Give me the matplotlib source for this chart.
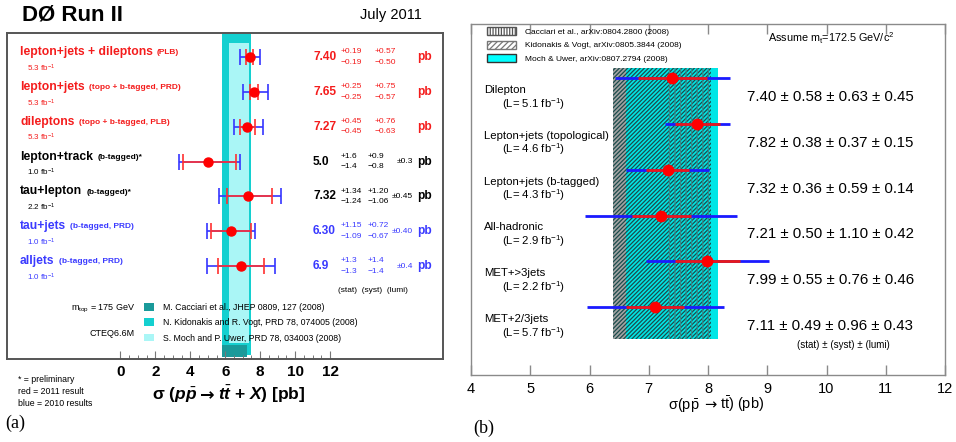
import matplotlib
matplotlib.use('Agg')
import matplotlib.pyplot as plt
import matplotlib.transforms as mtransforms
from matplotlib.patches import Patch
import numpy as np

plt.rcParams['font.family'] = ['Liberation Sans', 'DejaVu Sans']
plt.rcParams['mathtext.fontset'] = 'custom'
plt.rcParams['mathtext.rm'] = 'Liberation Sans'
plt.rcParams['mathtext.bf'] = 'Liberation Sans:bold'
plt.rcParams['mathtext.it'] = 'Liberation Sans:italic:bold'
plt.rcParams['mathtext.sf'] = 'Liberation Sans'
plt.rcParams['hatch.linewidth'] = 0.9

# ---------------- data: panel (a) ----------------
d0_names = ["lepton+jets + dileptons", "lepton+jets", "dileptons", "lepton+track",
            "tau+lepton", "tau+jets", "alljets"]
d0_notes = ["(PLB)", "(topo + b-tagged, PRD)", "(topo + b-tagged, PLB)", "(b-tagged)*",
            "(b-tagged)*", "(b-tagged, PRD)", "(b-tagged, PRD)"]
d0_intlumi = [5.3, 5.3, 5.3, 1.0, 2.2, 1.0, 1.0]
d0_xsec = [7.40, 7.65, 7.27, 5.0, 7.32, 6.30, 6.9]
d0_stat_up = [0.19, 0.25, 0.45, 1.6, 1.34, 1.15, 1.3]
d0_stat_dn = [0.19, 0.25, 0.45, 1.4, 1.24, 1.09, 1.3]
d0_syst_up = [0.57, 0.75, 0.76, 0.9, 1.20, 0.72, 1.4]
d0_syst_dn = [0.50, 0.57, 0.63, 0.8, 1.06, 0.67, 1.4]
d0_lumi_err = [None, None, None, 0.3, 0.45, 0.40, 0.4]
d0_decimals = [2, 2, 2, 1, 2, 2, 1]
d0_group = ["2011", "2011", "2011", "prelim", "prelim", "2010", "2010"]
d0_xticks = [0, 2, 4, 6, 8, 10, 12]

a_theory_names = ["M. Cacciari et al., JHEP 0809, 127 (2008)",
                  "N. Kidonakis and R. Vogt, PRD 78, 074005 (2008)",
                  "S. Moch and P. Uwer, PRD 78, 034003 (2008)"]
a_theory_lo = [5.8, 5.8, 6.2]
a_theory_hi = [7.25, 7.45, 7.35]

# ---------------- data: panel (b) ----------------
b_names = ["Dilepton", "Lepton+jets (topological)", "Lepton+jets (b-tagged)",
           "All-hadronic", "MET+>3jets", "MET+2/3jets"]
b_intlumi = [5.1, 4.6, 4.3, 2.9, 2.2, 5.7]
b_xsec = [7.40, 7.82, 7.32, 7.21, 7.99, 7.11]
b_stat = [0.58, 0.38, 0.36, 0.50, 0.55, 0.49]
b_syst = [0.63, 0.37, 0.59, 1.10, 0.76, 0.96]
b_lumi = [0.45, 0.15, 0.14, 0.42, 0.46, 0.43]

b_theory_names = ["Cacciari et al., arXiv:0804.2800 (2008)",
                  "Kidonakis & Vogt, arXiv:0805.3844 (2008)",
                  "Moch & Uwer, arXiv:0807.2794 (2008)"]
b_theory_lo = [7.30, 6.40, 6.62]
b_theory_hi = [8.05, 8.05, 8.17]

# ---------------- figure ----------------
W, H = 956, 442
fig = plt.figure(figsize=(W / 100, H / 100), dpi=100)


def fx(px):
    return px / W


def fy(py):
    return 1 - py / H


RED = '#f41c1c'
BLUE = '#3a3aff'
group_color = {"2011": RED, "prelim": 'black', "2010": BLUE}

# ================= panel (a) =================
axa = fig.add_axes([fx(7), fy(359), (443 - 7) / W, (359 - 33) / H])
axa.set_xlim(-6.50, 18.47)
axa.set_ylim(8.67, -0.69)
for s in axa.spines.values():
    s.set_color('#555555')
    s.set_linewidth(1.4)
axa.set_yticks([])
axa.set_xticks(d0_xticks)
axa.set_xticks(np.arange(d0_xticks[0], d0_xticks[-1] + 0.01, 0.5), minor=True)
axa.tick_params(axis='x', which='major', direction='in', length=6, width=0.8,
                color='#777777', labelsize=11, pad=4)
axa.tick_params(axis='x', which='minor', direction='in', length=3, width=0.7,
                color='#777777')
for lab in axa.get_xticklabels():
    lab.set_fontweight('bold')

a_colors = ['#1a9a9a', '#14d0d0', '#aaf6f6']
axa.axvspan(a_theory_lo[1], a_theory_hi[1], ymin=0.012, ymax=1.0,
            color=a_colors[1], lw=0, zorder=1)
axa.axvspan(a_theory_lo[2], a_theory_hi[2], ymin=0.049, ymax=0.969,
            color=a_colors[2], lw=0, zorder=1.1)
axa.axvspan(a_theory_lo[0], a_theory_hi[0], ymin=0.006, ymax=0.043,
            color=a_colors[0], lw=0, zorder=1.2)

rows_a = np.arange(len(d0_names))
x = np.array(d0_xsec)
su, sd = np.array(d0_stat_up), np.array(d0_stat_dn)
yu, yd = np.array(d0_syst_up), np.array(d0_syst_dn)
lu = np.array([0 if v is None else v for v in d0_lumi_err])
tot_up = np.sqrt(su ** 2 + yu ** 2 + lu ** 2)
tot_dn = np.sqrt(sd ** 2 + yd ** 2 + lu ** 2)
axa.errorbar(x, rows_a, xerr=[tot_dn, tot_up], fmt='none', ecolor='#3535ff',
             elinewidth=1.2, capsize=6, capthick=1.2, zorder=3)
axa.errorbar(x, rows_a, xerr=[sd, su], fmt='none', ecolor='#ff3030',
             elinewidth=1.2, capsize=6, capthick=1.2, zorder=4)
axa.plot(x, rows_a, 'o', color='#ff0000', ms=6.5, zorder=5)

trA = mtransforms.blended_transform_factory(axa.transAxes, axa.transData)
for i in range(len(d0_names)):
    c = group_color[d0_group[i]]
    d = d0_decimals[i]
    t = axa.text(0.030, i - 0.14, d0_names[i], transform=trA, color=c,
                 fontsize=8.7, fontweight='bold', va='center', zorder=6)
    axa.annotate(d0_notes[i], xy=(1, 0.5), xycoords=t, xytext=(3, -0.5),
                 textcoords='offset points', fontsize=6, fontweight='bold',
                 color=c, va='center', zorder=6)
    axa.text(0.046, i + 0.32, f"{d0_intlumi[i]:.1f} fb$^{{-1}}$", transform=trA,
             color=c, fontsize=5.8, va='center', zorder=6)
    axa.text(0.702, i, f"{d0_xsec[i]:.{d}f}", transform=trA, color=c,
             fontsize=8.6, fontweight='bold', va='center', zorder=6)
    x2 = 0.844 if d0_lumi_err[i] is None else 0.826
    axa.text(0.766, i - 0.15, f"+{d0_stat_up[i]:.{d}f}", transform=trA, color=c,
             fontsize=6.0, va='center', zorder=6)
    axa.text(0.766, i + 0.15, f"\u2212{d0_stat_dn[i]:.{d}f}", transform=trA, color=c,
             fontsize=6.0, va='center', zorder=6)
    axa.text(x2, i - 0.15, f"+{d0_syst_up[i]:.{d}f}", transform=trA, color=c,
             fontsize=6.0, va='center', zorder=6)
    axa.text(x2, i + 0.15, f"\u2212{d0_syst_dn[i]:.{d}f}", transform=trA, color=c,
             fontsize=6.0, va='center', zorder=6)
    if d0_lumi_err[i] is not None:
        axa.text(0.931, i, f"\u00b1{d0_lumi_err[i]:.{d}f}", transform=trA, color=c,
                 fontsize=6.0, va='center', ha='right', zorder=6)
    axa.text(0.940, i, "pb", transform=trA, color=c, fontsize=8.6,
             fontweight='bold', va='center', zorder=6)

axa.text((338 - 7) / 436, (359 - 290) / 326, "(stat)  (syst)  (lumi)",
         transform=axa.transAxes, fontsize=6, va='center', zorder=6)
axa.text((135 - 7) / 436, (359 - 309) / 326, "m$_{\\rm top}$ = 175 GeV",
         transform=axa.transAxes, fontsize=6.5, va='center', ha='right', zorder=6)
axa.text((135 - 7) / 436, (359 - 333) / 326, "CTEQ6.6M",
         transform=axa.transAxes, fontsize=6.5, va='center', ha='right', zorder=6)
hA = [Patch(facecolor=c, edgecolor='none') for c in a_colors]
legA = axa.legend(hA, a_theory_names, loc='upper left', bbox_to_anchor=(0.314, 0.172),
                  frameon=False, fontsize=6.3, handlelength=1.1, handleheight=1.0,
                  handletextpad=1.1, labelspacing=0.72, borderaxespad=0, borderpad=0)
legA.set_zorder(6)

fig.text(fx(22), fy(15), "D\u00d8 Run II", fontsize=16, fontweight='bold', va='center')
fig.text(fx(360), fy(15), "July 2011", fontsize=10.5, va='center')

# x label (a): three pieces around a centred arrow
ya_base = fy(400)
fig.text(fx(197), ya_base, '$\\mathbf{\\sigma}$ ($p\\bar{p}$', fontsize=12.5,
         fontweight='bold', ha='right', va='baseline')
fig.text(fx(207), ya_base, '\u2192', fontsize=12.5, fontweight='bold',
         family='DejaVu Sans', ha='center', va='baseline')
fig.text(fx(218), ya_base, '$t\\bar{t}$ + $X$) [pb]', fontsize=12.5,
         fontweight='bold', ha='left', va='baseline')

for k, s in enumerate(["* = preliminary", "red = 2011 result", "blue = 2010 results"]):
    fig.text(fx(18), fy(380 + 12 * k), s, fontsize=6.3, va='center')
fig.text(fx(5), fy(423), "(a)", fontsize=13, family=['Liberation Serif', 'DejaVu Serif'],
         va='center')

# ================= panel (b) =================
axb = fig.add_axes([fx(471), fy(375), (945 - 471) / W, (375 - 24) / H])
axb.set_xlim(4, 12)
axb.set_ylim(6.48, -1.18)
for s in axb.spines.values():
    s.set_color('#8a8a8a')
    s.set_linewidth(1.0)
axb.set_yticks([])
axb.set_xticks(np.arange(4, 13, 1))
axb.tick_params(axis='x', direction='in', length=7, width=1.0, color='#8a8a8a',
                top=True, labelsize=10.5, pad=5)

bymin, bymax = 0.1026, 0.875
axb.axvspan(b_theory_lo[1], b_theory_hi[1], ymin=bymin, ymax=bymax,
            facecolor='#a4a4a4', edgecolor='none', lw=0, zorder=1)
axb.axvspan(b_theory_lo[2], b_theory_hi[2], ymin=bymin, ymax=bymax,
            facecolor='#00e6e6', edgecolor='none', lw=0, zorder=1.1)
axb.axvspan(b_theory_lo[1], b_theory_hi[1], ymin=bymin, ymax=bymax,
            facecolor='none', edgecolor='#1c4c4c', hatch='////////', lw=0, zorder=1.2)
axb.axvspan(b_theory_lo[0], b_theory_hi[0], ymin=bymin, ymax=bymax,
            facecolor='none', edgecolor='#3a8888', hatch='|||', lw=0, zorder=1.3)

rows_b = np.arange(len(b_names))
xb = np.array(b_xsec)
stb = np.array(b_stat)
totb = np.sqrt(stb ** 2 + np.array(b_syst) ** 2 + np.array(b_lumi) ** 2)
axb.errorbar(xb, rows_b, xerr=totb, fmt='none', ecolor='#1a1aff', elinewidth=2.0,
             capsize=0, zorder=3)
axb.errorbar(xb, rows_b, xerr=stb, fmt='none', ecolor='#e81a1a', elinewidth=2.0,
             capsize=0, zorder=4)
axb.plot(xb, rows_b, 'o', color='#ff0000', ms=7.5, zorder=5)

for i in range(len(b_names)):
    axb.text(4.22, i + 0.26, b_names[i], fontsize=8.2, va='center')
    axb.text(4.52, i + 0.56, f"(L= {b_intlumi[i]:.1f} fb$^{{-1}}$)", fontsize=8.2,
             va='center')
    axb.text(8.66, i + 0.41,
             f"{b_xsec[i]:.2f} \u00b1 {b_stat[i]:.2f} \u00b1 {b_syst[i]:.2f} \u00b1 {b_lumi[i]:.2f}",
             fontsize=10.8, va='center')

axb.text(0.627, 0.96, "Assume m$_{\\mathrm{t}}$=172.5 GeV/c$^{2}$", transform=axb.transAxes,
         fontsize=7.8, va='center')
axb.text(0.688, 0.085, "(stat) \u00b1 (syst) \u00b1 (lumi)", transform=axb.transAxes,
         fontsize=7, va='center')

hB = [Patch(facecolor='white', edgecolor='#555555', hatch='||||||'),
      Patch(facecolor='white', edgecolor='#777777', hatch='//////'),
      Patch(facecolor='#00ffff', edgecolor='#333333')]
axb.legend(hB, b_theory_names, loc='upper left', bbox_to_anchor=(0.034, 0.991),
           frameon=False, fontsize=6, handlelength=3.5, handleheight=1.1,
           handletextpad=1.0, labelspacing=0.55, borderaxespad=0, borderpad=0)

# x label (b)
yb_base = fy(409)
fig.text(fx(700), yb_base, '$\\mathrm{\\sigma(p\\bar{p}}$', fontsize=10.5,
         ha='right', va='baseline')
fig.text(fx(710), yb_base, '\u2192', fontsize=10.5, family='DejaVu Sans',
         ha='center', va='baseline')
fig.text(fx(720), yb_base, '$\\mathrm{t\\bar{t})}$ (pb)', fontsize=10.5,
         ha='left', va='baseline')
fig.text(fx(473), fy(428), "(b)", fontsize=13, family=['Liberation Serif', 'DejaVu Serif'],
         va='center')

fig.savefig('out.png', dpi=100)
